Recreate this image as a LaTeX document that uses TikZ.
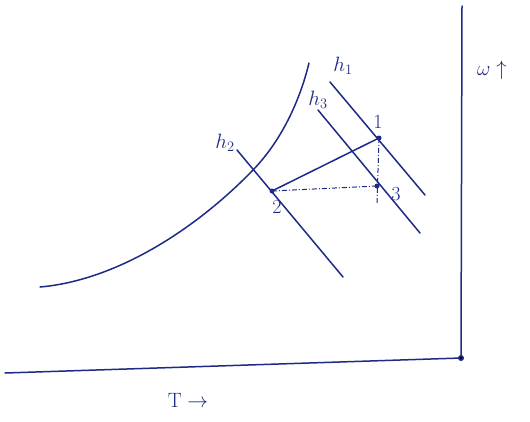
\documentclass[tikz,border=0pt]{standalone}
\usetikzlibrary{calc}
\definecolor{ink}{HTML}{1E2A86}
\begin{document}
\begin{tikzpicture}[x=1pt,y=-1pt,
  ink/.style={draw=ink,line width=1.5pt,line cap=round},
  dashdot/.style={draw=ink,line width=1pt,dash pattern=on 5pt off 2pt on 1pt off 2pt},
  lbl/.style={text=ink,font=\fontsize{20}{24}\selectfont,inner sep=1pt},
  dotpt/.style={circle,fill=ink,inner sep=0pt,minimum size=5pt}]
\useasboundingbox (0,0) rectangle (530,421);
% axes
\coordinate (xl) at (5,373);
\coordinate (org) at (461,358);
\coordinate (yt) at (462,6);
\draw[ink] (xl) -- (org) -- (yt);
\fill[ink] (org) circle (2.2pt);
\node[lbl] (wl) at (492,70) {$\omega\uparrow$};
\node[lbl] (tl) at (188,400) {$\mathrm{T}\rightarrow$};
% saturation curve
\draw[ink] (40,287) .. controls (120,280) and (200,225) .. (253,170)
  .. controls (282,140) and (300,100) .. (309,63);
% enthalpy lines
\coordinate (h1a) at (330,82); \coordinate (h1b) at (425,195);
\coordinate (h3a) at (318,110); \coordinate (h3b) at (420,233);
\coordinate (h2a) at (237,150); \coordinate (h2b) at (343,277);
\draw[ink] (h1a) -- (h1b);
\draw[ink] (h3a) -- (h3b);
\draw[ink] (h2a) -- (h2b);
\node[lbl] (lh1) at (343,66) {$h_1$};
\node[lbl] (lh3) at (318,100) {$h_3$};
\node[lbl] (lh2) at (225,143) {$h_2$};
% state points
\node[dotpt] (p1) at (379,138) {};
\node[dotpt] (p3) at (377,186) {};
\node[dotpt] (p2) at (272,191) {};
\coordinate (p3b) at (377,203);
\draw[ink] (p1.center) -- (p2.center);
\draw[dashdot] (p2.center) -- (p3.center);
\draw[dashdot] (p1.center) -- (p3b);
\node[lbl] (l1) at (378,122) {1};
\node[lbl] (l3) at (396,194) {3};
\node[lbl] (l2) at (277,207) {2};
\end{tikzpicture}
\end{document}
